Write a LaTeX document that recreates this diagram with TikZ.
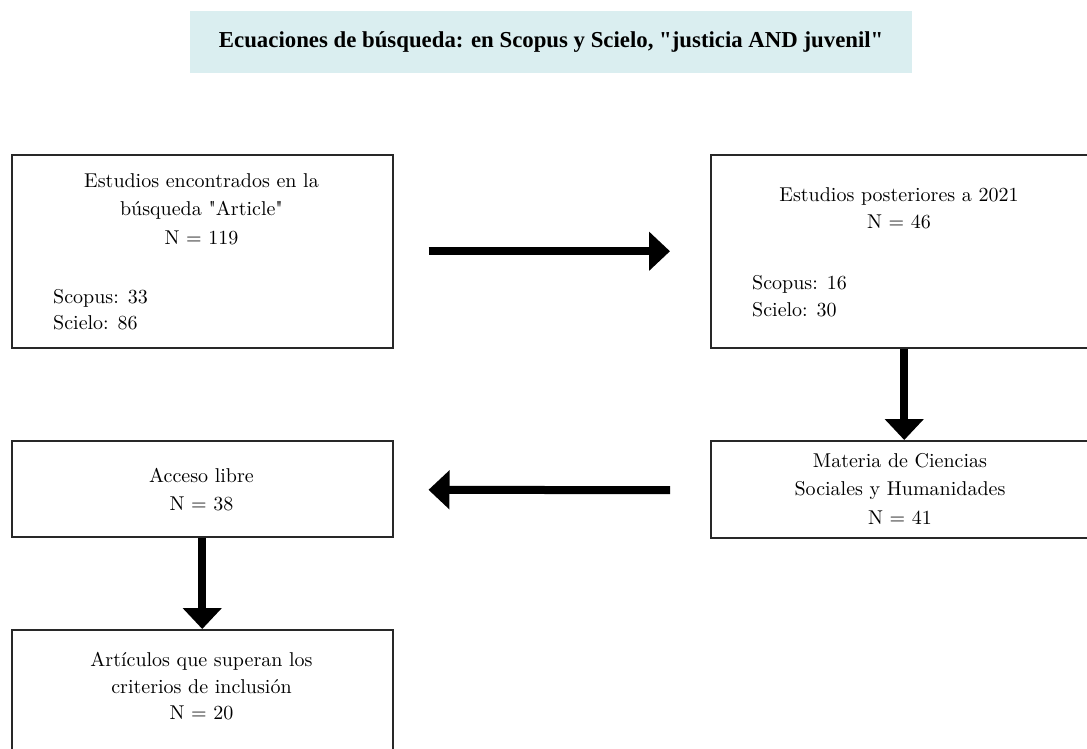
\documentclass[tikz,border=0pt]{standalone}
\usepackage{fontspec}
\setmainfont{lmroman10-regular.otf}
\newfontfamily\titlefont{Liberation Serif}
\usetikzlibrary{arrows.meta,calc}
\definecolor{titlefill}{RGB}{218,238,240}
\definecolor{boxline}{RGB}{40,40,40}
\begin{document}
\begin{tikzpicture}[x=1pt,y=-1pt,
  box/.style={draw=boxline, line width=1.5pt, inner sep=0pt, anchor=north west},
  txt/.style={font=\fontsize{20}{24}\selectfont, inner sep=0pt, anchor=base},
  ltxt/.style={txt, anchor=base west},
  bigarrow/.style={line width=8pt, -{Triangle[length=21pt,width=38pt]}}]
\useasboundingbox (0,0) rectangle (1087,748);
\clip (0,0) rectangle (1087,748);
% title
\node[fill=titlefill, minimum width=722pt, minimum height=62pt, inner sep=0pt, anchor=north west] (title) at (190,11) {};
\node[inner sep=0pt, font=\titlefont\bfseries\fontsize{22.8}{26}\selectfont] (titletext) at (title.center) {Ecuaciones de búsqueda: en Scopus y Scielo, \textquotedbl justicia AND juvenil\textquotedbl};
% boxes
\node[box, minimum width=381pt, minimum height=193pt] (b1) at (11,154) {};
\node[box, minimum width=381pt, minimum height=193pt] (b2) at (710,154) {};
\node[box, minimum width=381pt, minimum height=97pt] (b3) at (710,440) {};
\node[box, minimum width=381pt, minimum height=96pt] (b4) at (11,440) {};
\node[box, minimum width=381pt, minimum height=193pt] (b5) at (11,629) {};
% box 1 text
\node[txt] (t1a) at (201.5,187) {Estudios encontrados en la};
\node[txt] (t1b) at (201.5,215) {búsqueda \textquotedbl Article\textquotedbl};
\node[txt] (t1c) at (201.5,244) {N = 119};
\node[ltxt] (t1d) at (53,303) {Scopus: 33};
\node[ltxt] (t1e) at (53,329) {Scielo: 86};
% box 2 text
\node[txt] (t2a) at (899,201) {Estudios posteriores a 2021};
\node[txt] (t2b) at (899,228) {N = 46};
\node[ltxt] (t2c) at (752,289) {Scopus: 16};
\node[ltxt] (t2d) at (752,316) {Scielo: 30};
% box 3 text
\node[txt] (t3a) at (900,467) {Materia de Ciencias};
\node[txt] (t3b) at (900,495) {Sociales y Humanidades};
\node[txt] (t3c) at (900,524) {N = 41};
% box 4 text
\node[txt] (t4a) at (201.5,482) {Acceso libre};
\node[txt] (t4b) at (201.5,510) {N = 38};
% box 5 text
\node[txt] (t5a) at (201.5,666) {Artículos que superan los};
\node[txt] (t5b) at (201.5,693) {criterios de inclusión};
\node[txt] (t5c) at (201.5,719) {N = 20};
% arrows
\draw[bigarrow, shorten <=35pt, shorten >=40pt] (b1.east) -- (b2.west);
\draw[bigarrow] ($(b2.south)+(3,0)$) -- ($(b3.north)+(3,0)$);
\draw[bigarrow, shorten <=40pt, shorten >=35pt] ($(b3.west)+(0,1)$) -- ($(b4.east)+(0,1)$);
\draw[bigarrow] (b4.south) -- (b5.north);
\end{tikzpicture}
\end{document}
